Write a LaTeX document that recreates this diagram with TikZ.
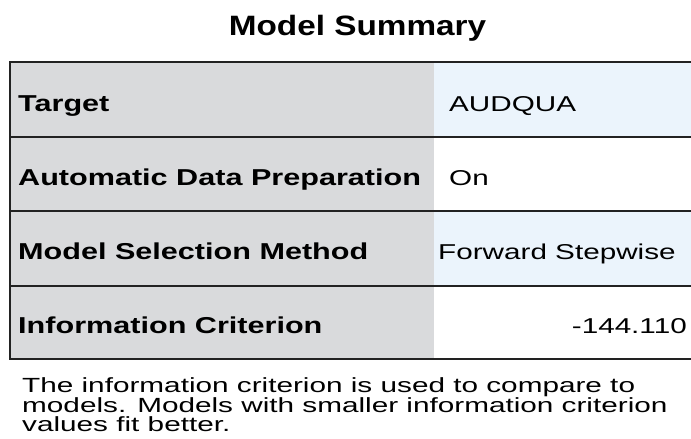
\documentclass[tikz,border=0pt]{standalone}
\usepackage{fontspec}
\newfontfamily\titlefont[FakeStretch=1.19]{Liberation Sans}
\newfontfamily\cellfont[FakeStretch=1.33]{Liberation Sans}
\newfontfamily\valfont[FakeStretch=1.38]{Liberation Sans}
\newfontfamily\notefont[FakeStretch=1.45]{Liberation Sans}
\definecolor{labelgray}{RGB}{217,218,220}
\definecolor{rowblue}{RGB}{235,244,252}
\definecolor{gridline}{RGB}{34,34,34}

\begin{document}
\begin{tikzpicture}[x=1pt, y=-1pt,
  lbl/.style={anchor=base west, inner sep=0pt,
    font=\cellfont\bfseries\fontsize{23}{27}\selectfont},
  val/.style={anchor=base west, inner sep=0pt,
    font=\valfont\fontsize{21.5}{25}\selectfont},
  rule/.style={draw=gridline, line width=2pt}]

\def \left {10}
\def \split {434}
\def \right {691}

\useasboundingbox (0,0) rectangle (691,439);

% cell backgrounds
\fill[labelgray] (\left,62) rectangle (\split,359);
\fill[rowblue] (\split,62) rectangle (\right,137);
\fill[rowblue] (\split,211) rectangle (\right,286);

% rules
\foreach \y in {62,137,211,286,359}
  \draw[rule] (\left,\y) -- (\right,\y);
\draw[rule] (\left,61) -- (\left,360);

\node[anchor=base, inner sep=0pt,
  font=\titlefont\bfseries\fontsize{28}{32}\selectfont] (title) at (357.5,35) {Model Summary};

% row labels
\foreach \t/\y [count=\i] in {Target/111, Automatic Data Preparation/185,
  Model Selection Method/259.5, Information Criterion/333}
  \node[lbl] (lab\i) at (18,\y) {\t};

% values
\node[val] (val1) at (449,111) {AUDQUA};
\node[val] (val2) at (449,185) {On};
\node[val] (val3) at (438,259.5) {Forward Stepwise};
\node[val, anchor=base east] (val4) at (687,333) {-144.110};

% footnote
\node[val, align=left, anchor=north west,
  font=\notefont\fontsize{20.5}{19}\selectfont] (note) at (22,377)
  {The information criterion is used to compare to\\
   models. Models with smaller information criterion\\
   values fit better.};
\end{tikzpicture}
\end{document}
